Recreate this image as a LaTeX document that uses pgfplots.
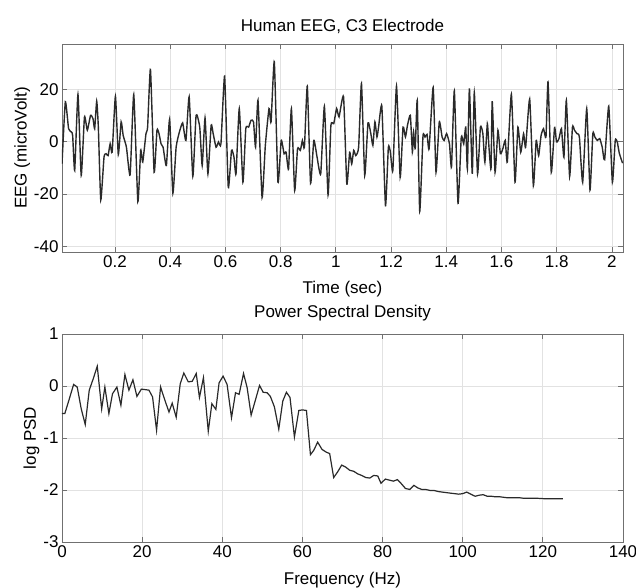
\documentclass[border=0pt]{standalone}
\usepackage{fontspec}
\setmainfont{Liberation Sans}
\usepackage{pgfplots}
\pgfplotsset{compat=1.18}
\definecolor{trace}{HTML}{2A2A2A}
\definecolor{frame}{HTML}{707070}
\definecolor{grd}{HTML}{E2E2E2}

\pgfplotsset{
  panel/.style={
    width=561pt, height=208pt, scale only axis,
    anchor=south west,
    axis line style={frame, line width=0.9pt},
    tick style={frame, line width=0.8pt},
    major tick length=5pt,
    tick align=inside,
    grid=major,
    major grid style={grd, line width=0.8pt},
    tick label style={font=\fontsize{17}{19}\selectfont},
    label style={font=\fontsize{17}{19}\selectfont},
    title style={font=\fontsize{17}{19}\selectfont},
    /pgf/number format/assume math mode=true,
    clip=true,
  },
}

\begin{document}
\begin{tikzpicture}

% EEG trace
\begin{axis}[panel, at={(0pt,290pt)},
  xmin=0.008, xmax=2.04, ymin=-42.2, ymax=37.4,
  xtick={0.2,0.4,0.6,0.8,1,1.2,1.4,1.6,1.8,2},
  ytick={-40,-20,0,20},
  xlabel={Time (sec)}, ylabel={EEG (microVolt)},
  title={Human EEG, C3 Electrode},
  title style={yshift=1pt},
  xlabel style={yshift=-7pt},
  ylabel style={yshift=-3pt},
]
\addplot[trace, line width=1.4pt, smooth, tension=0.3] coordinates {
(0.008,-8.5) (0.0201,15.3) (0.0319,5.0) (0.0422,3.7) (0.0466,2.4) (0.0540,-11.0)
(0.0658,18.1) (0.0776,-12.9) (0.0894,9.5) (0.0997,4.4) (0.1115,10.1) (0.1204,8.8)
(0.1263,5.0) (0.1337,15.5) (0.1396,5.6) (0.1484,-22.3) (0.1602,-5.9) (0.1676,-4.6)
(0.1750,-5.3) (0.1824,-0.8) (0.1897,-4.0) (0.2015,17.4) (0.2119,-4.9) (0.2222,7.6)
(0.2296,2.4) (0.2414,-2.1) (0.2547,-12.7) (0.2679,18.1) (0.2827,-22.9) (0.2930,-3.3)
(0.3004,-7.8) (0.3122,3.1) (0.3181,5.6) (0.3284,27.7) (0.3417,-11.7) (0.3520,4.4)
(0.3594,3.1) (0.3668,-0.8) (0.3742,-2.1) (0.3860,-9.1) (0.3978,8.6) (0.4096,-19.7)
(0.4214,-2.1) (0.4332,3.7) (0.4450,7.2) (0.4568,0.5) (0.4686,17.2) (0.4819,-13.3)
(0.4937,10.1) (0.5069,5.6) (0.5158,-9.1) (0.5261,9.1) (0.5365,-12.3) (0.5483,6.3)
(0.5556,3.1) (0.5660,-2.1) (0.5748,-0.1) (0.5837,-0.8) (0.5970,25.1) (0.6102,-17.4)
(0.6220,-3.3) (0.6309,-5.9) (0.6383,-12.3) (0.6501,12.7) (0.6633,-15.5) (0.6737,5.0)
(0.6840,5.6) (0.6928,8.2) (0.7017,7.6) (0.7091,-2.1) (0.7179,15.9) (0.7327,-21.3)
(0.7445,-1.4) (0.7578,12.7) (0.7652,7.6) (0.7770,30.6) (0.7902,-15.5) (0.8020,0.5)
(0.8124,-4.6) (0.8197,-4.0) (0.8286,-10.4) (0.8389,12.7) (0.8507,-18.7) (0.8611,-2.7)
(0.8714,-3.3) (0.8788,0.5) (0.8861,-2.1) (0.8965,21.3) (0.9083,-15.9) (0.9201,0.5)
(0.9319,-5.9) (0.9451,-12.3) (0.9584,13.6) (0.9717,-20.4) (0.9820,6.3) (0.9923,6.9)
(1.0027,12.7) (1.0115,9.5) (1.0278,17.2) (1.0396,-16.2) (1.0499,-4.0) (1.0573,-8.5)
(1.0647,-3.3) (1.0720,-5.3) (1.0824,-2.1) (1.0927,22.3) (1.1045,-12.9) (1.1163,7.2)
(1.1266,3.1) (1.1340,-1.4) (1.1414,7.6) (1.1488,1.8) (1.1547,5.6) (1.1665,13.6)
(1.1797,-24.5) (1.1901,-2.1) (1.1975,-4.0) (1.2063,-11.0) (1.2196,21.3) (1.2328,-13.6)
(1.2432,5.6) (1.2520,1.8) (1.2594,6.3) (1.2697,10.1) (1.2771,-4.0) (1.2815,3.7)
(1.2874,-2.7) (1.2948,15.9) (1.3037,-26.7) (1.3155,2.1) (1.3228,1.8) (1.3302,2.8)
(1.3376,-2.7) (1.3524,20.8) (1.3627,-11.7) (1.3745,7.6) (1.3848,1.8) (1.3922,0.5)
(1.4011,3.1) (1.4114,-0.8) (1.4188,-9.7) (1.4291,19.5) (1.4424,-23.6) (1.4542,1.8)
(1.4630,-0.8) (1.4704,5.6) (1.4763,-10.4) (1.4837,20.4) (1.4940,-12.3) (1.5014,18.8)
(1.5132,-12.3) (1.5235,5.6) (1.5324,3.1) (1.5397,-7.8) (1.5486,6.9) (1.5545,-2.1)
(1.5619,-10.4) (1.5663,15.5) (1.5766,-11.7) (1.5870,4.4) (1.5958,-4.6) (1.6047,-2.7)
(1.6135,0.5) (1.6209,-7.8) (1.6357,18.2) (1.6489,-15.5) (1.6593,5.6) (1.6696,-4.0)
(1.6799,3.1) (1.6873,-2.1) (1.7020,16.3) (1.7153,-16.8) (1.7256,0.5) (1.7345,-5.3)
(1.7433,2.4) (1.7522,5.0) (1.7610,1.8) (1.7684,22.9) (1.7802,-11.7) (1.7920,5.4)
(1.7994,-0.1) (1.8082,1.2) (1.8171,5.0) (1.8260,-5.9) (1.8348,15.9) (1.8466,-13.3)
(1.8569,5.6) (1.8643,4.4) (1.8732,3.1) (1.8820,1.8) (1.8939,-15.5) (1.9086,12.7)
(1.9204,-18.5) (1.9307,3.1) (1.9381,1.8) (1.9469,0.5) (1.9558,1.2) (1.9647,-2.1)
(1.9735,-6.9) (1.9883,13.6) (2.0015,-15.5) (2.0119,0.5) (2.0193,-0.1) (2.0266,-4.4)
(2.0384,-8.2)
};
\end{axis}

% power spectral density
\begin{axis}[panel, at={(0pt,0pt)},
  xmin=0, xmax=140, ymin=-3, ymax=1,
  xtick={0,20,40,60,80,100,120,140},
  ytick={-3,-2,-1,0,1},
  xlabel={Frequency (Hz)}, ylabel={log PSD},
  title={Power Spectral Density},
  title style={yshift=3pt},
  xlabel style={yshift=-8pt},
  ylabel style={yshift=-3pt},
]
\addplot[trace, line width=1.2pt] coordinates {
(0,-0.53) (0.7,-0.53) (1.7,-0.28) (2.9,0.03) (3.8,-0.02) (4.8,-0.44) (5.8,-0.74)
(6.8,-0.08) (7.8,0.14) (8.8,0.38) (9.9,-0.44) (10.7,-0.02) (11.7,-0.53) (12.6,-0.15)
(13.7,-0.02) (14.7,-0.37) (15.7,0.22) (16.7,-0.08) (17.7,0.12) (18.7,-0.20)
(19.8,-0.06) (20.8,-0.07) (21.7,-0.08) (22.6,-0.21) (23.6,-0.85) (24.6,-0.02)
(25.7,-0.28) (26.7,-0.50) (27.5,-0.33) (28.5,-0.60) (29.5,0.04) (30.4,0.25)
(31.5,0.08) (32.5,0.09) (33.5,0.24) (34.3,-0.22) (35.3,0.16) (36.5,-0.87)
(37.4,-0.34) (38.4,-0.45) (39.2,0.06) (40.2,0.19) (41.2,0.03) (42.3,-0.61)
(43.3,-0.13) (44.2,-0.16) (45.3,0.24) (46.2,-0.03) (47.2,-0.56) (48.3,-0.26)
(49.3,0.01) (50.2,-0.12) (51.2,-0.13) (52.0,-0.20) (53.0,-0.40) (54.1,-0.83)
(55.1,-0.29) (56.0,-0.12) (56.9,-0.22) (58.0,-0.98) (59.1,-0.47) (60.0,-0.46)
(61.0,-0.47) (62.0,-1.32) (62.8,-1.24) (63.8,-1.08) (64.9,-1.22) (65.9,-1.27)
(66.8,-1.30) (67.8,-1.76) (68.8,-1.65) (69.8,-1.52) (70.8,-1.56) (71.8,-1.62)
(72.8,-1.64) (73.8,-1.69) (74.8,-1.72) (75.8,-1.76) (76.8,-1.77) (77.8,-1.72)
(78.8,-1.73) (79.6,-1.87) (80.7,-1.79) (81.7,-1.81) (82.7,-1.83) (83.7,-1.80)
(84.7,-1.88) (85.7,-1.97) (86.8,-1.99) (87.8,-1.91) (88.8,-1.96) (89.8,-1.99)
(90.8,-1.99) (91.9,-2.01) (92.9,-2.01) (93.9,-2.03) (94.9,-2.04) (95.9,-2.05)
(96.9,-2.06) (98.0,-2.07) (99.0,-2.08) (100.0,-2.07) (101.0,-2.04) (102.0,-2.08)
(103.1,-2.12) (104.1,-2.10) (105.1,-2.09) (106.1,-2.12) (107.1,-2.12) (108.1,-2.13)
(109.2,-2.13) (110.2,-2.14) (111.2,-2.15) (112.2,-2.15) (113.2,-2.15) (114.3,-2.15)
(115.3,-2.16) (116.8,-2.16) (118.8,-2.16) (120.9,-2.17) (122.9,-2.17) (125.0,-2.17)
};
\end{axis}

\pgfresetboundingbox
\path[use as bounding box] (-62pt,-45pt) rectangle (574pt,542pt);
\end{tikzpicture}
\end{document}
